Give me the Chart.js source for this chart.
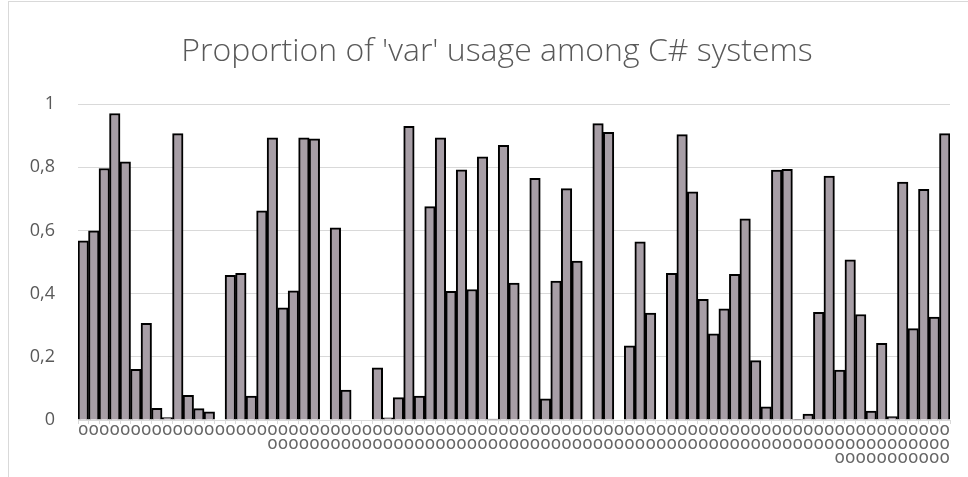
<!DOCTYPE html>
<html>
<head>
<meta charset="utf-8">
<script src="https://cdn.jsdelivr.net/npm/chart.js@4"></script>
<style>
  html, body { margin: 0; padding: 0; background: #fff; overflow: hidden; }
  #wrap { position: relative; width: 968px; height: 477px; }
  #frame { position: absolute; left: 8px; top: 1px; width: 1000px; height: 500px;
           border-left: 1px solid #d9d9d9; border-top: 1px solid #d9d9d9; }
  canvas { position: absolute; left: 0; top: 0; }
</style>
</head>
<body>
<div id="wrap">
  <div id="frame"></div>
  <canvas id="varChart" width="968" height="477"></canvas>
</div>
<script>
const chartTitle = "Proportion of 'var' usage among C# systems";
// tick labels: one, two or three rows of glyphs per system
const A = 'o', B = ['o', 'o'], C = ['o', 'o', 'o'];
const categories = [
    A, A, A, A, A, A, A, A, A, A, A, A, A, A, A, A, A, A,
    B, B, B, B, B, B, B, B, B, B, B, B, B, B, B, B, B, B, B, B, B, B, B, B, B, B, B,
    B, B, B, B, B, B, B, B, B, B, B, B, B, B, B, B, B, B, B, B, B, B, B, B, B, B, B,
    C, C, C, C, C, C, C, C, C, C, C
];
const varUsage = [
    0.567, 0.599, 0.796, 0.970, 0.817, 0.160, 0.306, 0.037, 0.008, 0.906,
    0.078, 0.036, 0.026, 0, 0.458, 0.464, 0.076, 0.662, 0.893, 0.355,
    0.409, 0.893, 0.890, 0, 0.608, 0.095, 0, 0, 0.165, 0.007,
    0.071, 0.929, 0.076, 0.675, 0.893, 0.407, 0.792, 0.413, 0.833, 0.003,
    0.869, 0.433, 0, 0.765, 0.067, 0.440, 0.732, 0.503, 0, 0.938,
    0.910, 0, 0.235, 0.564, 0.338, 0, 0.464, 0.903, 0.722, 0.382,
    0.273, 0.352, 0.461, 0.637, 0.188, 0.042, 0.791, 0.793, 0.002, 0.019,
    0.341, 0.772, 0.158, 0.507, 0.334, 0.028, 0.243, 0.011, 0.753, 0.289,
    0.730, 0.326, 0.906
];
const yTicks = [0, 0.2, 0.4, 0.6, 0.8, 1];

// title drawn a little right of the canvas centre, as in the original
const titlePlugin = {
    id: 'offsetTitle',
    afterDraw(chart) {
        const c = chart.ctx;
        c.save();
        c.font = '300 32px "Open Sans"';
        c.fillStyle = '#595959';
        c.textAlign = 'center';
        c.textBaseline = 'middle';
        c.fillText(chartTitle, 497, 52);
        c.restore();
    }
};

const ctx = document.getElementById('varChart').getContext('2d');
const varChart = new Chart(ctx, {
    type: 'bar',
    data: {
        labels: categories,
        datasets: [{
            label: 'var usage',
            data: varUsage,
            backgroundColor: '#a79ea6',
            borderColor: '#000000',
            borderWidth: 2,
            barPercentage: 1,
            categoryPercentage: 1
        }]
    },
    plugins: [titlePlugin],
    options: {
        responsive: false,
        animation: false,
        layout: { padding: { left: 0, right: 18, top: 104, bottom: 0 } },
        plugins: {
            legend: { display: false },
            tooltip: { enabled: false },
            title: { display: false }
        },
        scales: {
            x: {
                afterFit: function (scale) { scale.height = 57; },
                grid: { drawOnChartArea: false, drawTicks: true, tickLength: 4, color: '#d9d9d9' },
                border: { color: '#d9d9d9', width: 1 },
                ticks: {
                    autoSkip: false,
                    maxRotation: 0,
                    minRotation: 0,
                    padding: 0,
                    color: '#666666',
                    font: { family: 'DejaVu Sans', size: 17, lineHeight: 0.82 }
                }
            },
            y: {
                min: 0,
                max: 1,
                afterFit: function (scale) { scale.width = 78; },
                afterBuildTicks: function (scale) {
                    scale.ticks = yTicks.map(v => ({ value: v }));
                },
                grid: { color: '#d9d9d9', drawTicks: false },
                border: { display: false },
                ticks: {
                    padding: 23,
                    color: '#595959',
                    font: { family: 'Open Sans', size: 18 },
                    callback: function (value) {
                        return String(Math.round(value * 10) / 10).replace('.', ',');
                    }
                }
            }
        }
    }
});
</script>
</body>
</html>
